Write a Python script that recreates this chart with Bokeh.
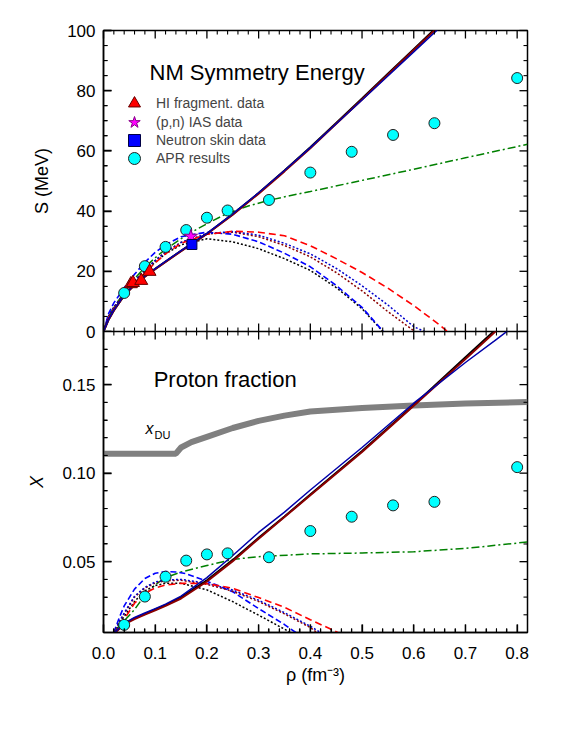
from bokeh.plotting import figure
from bokeh.layouts import column
from bokeh.models import (FixedTicker, LinearAxis, PrintfTickFormatter, Label,
                          Legend, LegendItem, Range1d)
from bokeh.embed import file_html
from bokeh.resources import INLINE

FONT = "Liberation Sans"
FRAME_W, FRAME_H = 424, 301

# ---------------- axis limits and ticks ----------------
X_MIN, X_MAX = 0.0, 0.82
S_MIN, S_MAX = 0.0, 100.0
P_MIN, P_MAX = 0.01, 0.18
x_major = [0.0, 0.1, 0.2, 0.3, 0.4, 0.5, 0.6, 0.7, 0.8]
x_minor = [0.02, 0.04, 0.06, 0.08, 0.12, 0.14, 0.16, 0.18, 0.22, 0.24, 0.26, 0.28,
           0.32, 0.34, 0.36, 0.38, 0.42, 0.44, 0.46, 0.48, 0.52, 0.54, 0.56, 0.58,
           0.62, 0.64, 0.66, 0.68, 0.72, 0.74, 0.76, 0.78]
s_major = [0, 20, 40, 60, 80, 100]
s_minor = [5, 10, 15, 25, 30, 35, 45, 50, 55, 65, 70, 75, 85, 90, 95]
p_major = [0.05, 0.10, 0.15]
p_minor = [0.02, 0.03, 0.04, 0.06, 0.07, 0.08, 0.09, 0.11, 0.12, 0.13, 0.14, 0.16, 0.17]

# ---------------- top panel: symmetry energy ----------------
x_stiff = [0, 0.01, 0.02, 0.04, 0.06, 0.08, 0.1, 0.12, 0.15, 0.2, 0.25, 0.3, 0.35, 0.4, 0.45, 0.5, 0.55, 0.6, 0.65]
S_black_solid = [0, 4, 7, 12, 15.5, 18.3, 20.8, 23.2, 26.8, 32.5, 39, 46, 53.5, 61.2, 69.3, 77.4, 85.6, 93.8, 102]
S_darkred_solid = [0, 4, 7, 12, 15.4, 18.2, 20.7, 23.1, 26.7, 32.4, 38.8, 45.8, 53.2, 60.9, 69, 77.1, 85.3, 93.5, 101.6]
S_blue_solid = [0, 4.1, 7.1, 12.1, 15.6, 18.4, 20.9, 23.3, 26.9, 32.6, 39.1, 46.1, 53.5, 61.1, 69, 76.9, 84.9, 92.9, 100.9]

x_black_dot = [0, 0.01, 0.02, 0.04, 0.06, 0.08, 0.1, 0.12, 0.15, 0.2, 0.25, 0.3, 0.35, 0.4, 0.45, 0.5, 0.54]
S_black_dot = [0, 5, 8, 12.5, 16.5, 20, 23, 25.8, 28.8, 30.8, 29.8, 27.5, 24.2, 20.3, 14.6, 7.6, 0]
x_blue_dash = [0, 0.01, 0.02, 0.04, 0.06, 0.08, 0.1, 0.12, 0.15, 0.2, 0.25, 0.3, 0.35, 0.4, 0.45, 0.5, 0.541]
S_blue_dash = [0, 6, 9.5, 14.5, 19, 23, 26.3, 28.8, 31.5, 33, 32.3, 29.8, 26, 21.5, 15.3, 8, 0]
x_darkred_dot = [0, 0.01, 0.02, 0.04, 0.06, 0.08, 0.1, 0.12, 0.15, 0.2, 0.25, 0.3, 0.35, 0.4, 0.45, 0.5, 0.55, 0.602]
S_darkred_dot = [0, 5, 8, 12.7, 16.8, 20.4, 23.6, 26.4, 29.6, 32.4, 33, 31.5, 28.6, 24.8, 19.6, 13.5, 6.6, 0]
x_blue_dot = [0, 0.01, 0.02, 0.04, 0.06, 0.08, 0.1, 0.12, 0.15, 0.2, 0.25, 0.3, 0.35, 0.4, 0.45, 0.5, 0.55, 0.6, 0.621]
S_blue_dot = [0, 5, 8, 12.7, 16.8, 20.4, 23.6, 26.4, 29.6, 32.5, 33.2, 32, 29.3, 25.8, 21, 15.2, 8.8, 1.6, 0]
x_red_dash = [0, 0.01, 0.02, 0.04, 0.06, 0.08, 0.1, 0.12, 0.15, 0.2, 0.25, 0.3, 0.35, 0.4, 0.45, 0.5, 0.55, 0.6, 0.65, 0.665]
S_red_dash = [0, 4.5, 7.5, 12, 16, 19.5, 22.8, 25.8, 29.3, 32.3, 33.3, 33, 31.8, 28.5, 24.2, 19.6, 14.4, 8.6, 2.2, 0]
x_green = [0, 0.01, 0.02, 0.04, 0.06, 0.08, 0.1, 0.12, 0.16, 0.2, 0.24, 0.28, 0.32, 0.36, 0.4, 0.5, 0.6, 0.7, 0.82]
S_green = [0, 5, 8, 13, 17.5, 21.3, 24.5, 27.3, 32, 35.8, 39.3, 41.7, 43.6, 45.1, 46.5, 50.2, 53.9, 57.7, 62.2]

x_apr = [0.04, 0.08, 0.12, 0.16, 0.20, 0.24, 0.32, 0.40, 0.48, 0.56, 0.64, 0.80]
S_apr = [12.8, 21.7, 28.1, 33.7, 37.8, 40.2, 43.7, 52.8, 59.7, 65.3, 69.2, 84.2]
x_hi = [0.053, 0.057, 0.073, 0.089]
S_hi = [15.8, 16.2, 16.9, 19.9]
x_ias = [0.169]
S_ias = [31.6]
x_skin = [0.171]
S_skin = [28.9]

# ---------------- bottom panel: proton fraction ----------------
x_stiff_b = [0.02, 0.04, 0.06, 0.08, 0.1, 0.12, 0.15, 0.2, 0.25, 0.3, 0.35, 0.4, 0.5, 0.6, 0.7, 0.76, 0.8]
X_blue_solid = [0.0095, 0.0152, 0.0185, 0.021, 0.0235, 0.026, 0.0305, 0.041, 0.0535, 0.0665, 0.078, 0.0905, 0.1145, 0.1395, 0.1625, 0.1755, 0.1845]
X_black_solid = [0.0095, 0.015, 0.018, 0.0205, 0.023, 0.0255, 0.0298, 0.0395, 0.051, 0.0635, 0.0755, 0.088, 0.1125, 0.1385, 0.1655, 0.1815, 0.192]
X_darkred_solid = [0.0092, 0.0146, 0.0176, 0.0201, 0.0225, 0.025, 0.0292, 0.0388, 0.0503, 0.063, 0.0752, 0.0875, 0.112, 0.138, 0.1645, 0.1805, 0.191]

xb_blue_dash = [0.02, 0.03, 0.04, 0.06, 0.08, 0.1, 0.12, 0.14, 0.16, 0.2, 0.25, 0.3, 0.35, 0.372]
X_blue_dash = [0.01, 0.018, 0.025, 0.0345, 0.0405, 0.0435, 0.0444, 0.0442, 0.0432, 0.039, 0.033, 0.0235, 0.0145, 0.01]
xb_black_dot = [0.02, 0.03, 0.04, 0.06, 0.08, 0.1, 0.12, 0.15, 0.2, 0.25, 0.3, 0.36]
X_black_dot = [0.01, 0.015, 0.019, 0.0275, 0.0335, 0.0365, 0.0378, 0.0378, 0.0341, 0.0274, 0.0198, 0.0103]
xb_blue_dot = [0.02, 0.03, 0.04, 0.06, 0.08, 0.1, 0.12, 0.15, 0.2, 0.25, 0.3, 0.35, 0.4, 0.42]
X_blue_dot = [0.01, 0.016, 0.021, 0.0305, 0.0355, 0.0385, 0.0397, 0.04, 0.0378, 0.034, 0.0282, 0.0212, 0.0135, 0.01]
xb_darkred_dot = [0.02, 0.03, 0.04, 0.06, 0.08, 0.1, 0.12, 0.15, 0.2, 0.25, 0.3, 0.35, 0.4, 0.415]
X_darkred_dot = [0.01, 0.0155, 0.0205, 0.03, 0.035, 0.038, 0.0392, 0.0395, 0.0372, 0.0333, 0.0275, 0.0205, 0.0128, 0.0095]
xb_red_dash = [0.02, 0.03, 0.04, 0.06, 0.08, 0.1, 0.12, 0.15, 0.2, 0.25, 0.3, 0.35, 0.4, 0.45, 0.455]
X_red_dash = [0.009, 0.0135, 0.0175, 0.0265, 0.0322, 0.0352, 0.0368, 0.0378, 0.0376, 0.035, 0.0297, 0.0242, 0.0172, 0.0105, 0.0098]
xb_green = [0.02, 0.03, 0.04, 0.06, 0.08, 0.1, 0.12, 0.15, 0.2, 0.25, 0.3, 0.4, 0.5, 0.6, 0.7, 0.8, 0.82]
X_green = [0.0105, 0.0135, 0.0165, 0.023, 0.031, 0.037, 0.041, 0.0442, 0.0478, 0.0513, 0.0528, 0.0544, 0.0549, 0.0556, 0.0575, 0.0605, 0.0612]

x_du = [0, 0.14, 0.15, 0.17, 0.2, 0.25, 0.3, 0.35, 0.4, 0.5, 0.6, 0.7, 0.82]
X_du = [0.111, 0.111, 0.1145, 0.1175, 0.1205, 0.1255, 0.1295, 0.1325, 0.1348, 0.1368, 0.1382, 0.1393, 0.1402]

X_apr = [0.0143, 0.0303, 0.0415, 0.0506, 0.0541, 0.0547, 0.0525, 0.0673, 0.0754, 0.0818, 0.0838, 0.1034]

# ---------------- helpers ----------------
def add_axis(p, loc, major, minor, fmt, label, label_style="normal"):
    ax = LinearAxis(ticker=FixedTicker(ticks=major, minor_ticks=minor),
                    formatter=PrintfTickFormatter(format=fmt))
    ax.major_tick_in = 8
    ax.major_tick_out = 0
    ax.minor_tick_in = 4
    ax.minor_tick_out = 0
    ax.major_tick_line_color = "black"
    ax.minor_tick_line_color = "black"
    ax.major_tick_line_width = 1.3
    ax.minor_tick_line_width = 1.1
    ax.axis_line_color = "black"
    ax.axis_line_width = 1.5
    ax.major_label_text_font = FONT
    ax.major_label_text_font_size = "17px"
    ax.major_label_text_color = "black"
    ax.major_label_standoff = 8 if loc == "left" else 14
    ax.axis_label = label
    ax.axis_label_text_font = FONT
    ax.axis_label_text_font_size = "18px"
    ax.axis_label_text_font_style = label_style
    ax.axis_label_text_color = "black"
    ax.axis_label_standoff = 12 if loc == "left" else 3
    p.add_layout(ax, loc)
    return ax


def add_ticks(p, ymin, ymax, ymaj, ymin_ticks):
    """Inward tick marks on all four sides of the frame (lengths in pixels)."""
    per_px_y = (ymax - ymin) / FRAME_H
    per_px_x = (X_MAX - X_MIN) / FRAME_W
    for xs, ln, lw in ((x_major, 8, 1.3), (x_minor, 4, 1.1)):
        n = len(xs)
        p.segment(x0=xs, y0=[ymin] * n, x1=xs, y1=[ymin + ln * per_px_y] * n,
                  line_color="black", line_width=lw, level="overlay")
        p.segment(x0=xs, y0=[ymax] * n, x1=xs, y1=[ymax - ln * per_px_y] * n,
                  line_color="black", line_width=lw, level="overlay")
    for ys, ln, lw in ((ymaj, 8, 1.3), (ymin_ticks, 4, 1.1)):
        n = len(ys)
        p.segment(x0=[X_MIN] * n, y0=ys, x1=[X_MIN + ln * per_px_x] * n, y1=ys,
                  line_color="black", line_width=lw, level="overlay")
        p.segment(x0=[X_MAX] * n, y0=ys, x1=[X_MAX - ln * per_px_x] * n, y1=ys,
                  line_color="black", line_width=lw, level="overlay")


def make_fig(ymin, ymax, top_border, bottom_border):
    p = figure(frame_width=FRAME_W, frame_height=FRAME_H, x_range=Range1d(X_MIN, X_MAX),
               y_range=Range1d(ymin, ymax),
               output_backend="svg", toolbar_location=None,
               min_border_left=103, min_border_right=25,
               min_border_top=top_border, min_border_bottom=bottom_border,
               x_axis_location=None, y_axis_location=None)
    p.grid.visible = False
    p.outline_line_color = "black"
    p.outline_line_width = 1.5
    return p


def legend_row(p, label, renderer, loc_y):
    lg = Legend(items=[LegendItem(label=label, renderers=[renderer])],
                location=(16, loc_y), glyph_width=30, glyph_height=30,
                padding=0, margin=0, label_standoff=7,
                label_text_font=FONT, label_text_font_size="14px",
                border_line_color=None, background_fill_alpha=0)
    p.add_layout(lg)


# ---------------- top figure ----------------
p1 = make_fig(S_MIN, S_MAX, 30, 10)
add_ticks(p1, S_MIN, S_MAX, s_major, s_minor)
add_axis(p1, "left", s_major, s_minor, "%d", "S (MeV)")

p1.line(x_green, S_green, line_color="#008000", line_width=1.5, line_dash="8 3 2 3")
p1.line(x_black_dot, S_black_dot, line_color="black", line_width=1.5, line_dash="2 2")
p1.line(x_blue_dash, S_blue_dash, line_color="#0000FF", line_width=1.6, line_dash="6 3")
p1.line(x_darkred_dot, S_darkred_dot, line_color="#8B0000", line_width=1.5, line_dash="2 2")
p1.line(x_blue_dot, S_blue_dot, line_color="#0000CC", line_width=1.5, line_dash="2 2")
p1.line(x_red_dash, S_red_dash, line_color="#FF0000", line_width=1.6, line_dash="7 4")
p1.line(x_stiff, S_black_solid, line_color="black", line_width=2)
p1.line(x_stiff, S_darkred_solid, line_color="#8B0000", line_width=2)
p1.line(x_stiff, S_blue_solid, line_color="#0000AA", line_width=1.5)

r_apr = p1.scatter(x_apr, S_apr, marker="circle", size=11, fill_color="#00FFFF", line_color="#222222", line_width=1)
r_hi = p1.scatter(x_hi, S_hi, marker="triangle", size=13, fill_color="#FF0000", line_color="#660000", line_width=1)
r_ias = p1.scatter(x_ias, S_ias, marker="star", size=14, fill_color="#FF00FF", line_color="#880088", line_width=1)
r_skin = p1.scatter(x_skin, S_skin, marker="square", size=10, fill_color="#0000FF", line_color="#000044", line_width=1)

legend_row(p1, "HI fragment. data", r_hi, 213)
legend_row(p1, "(p,n) IAS data", r_ias, 194.5)
legend_row(p1, "Neutron skin data", r_skin, 176.5)
legend_row(p1, "APR results", r_apr, 158.5)

p1.add_layout(Label(x=0.089, y=86.1, text="NM Symmetry Energy", text_font=FONT,
                    text_font_size="22px", text_baseline="alphabetic", text_color="black"))

# ---------------- bottom figure ----------------
p2 = make_fig(P_MIN, P_MAX, 0, 10)
p2.border_fill_alpha = 0
p2.styles = {"margin-top": "-10px"}
add_ticks(p2, P_MIN, P_MAX, p_major, p_minor)
add_axis(p2, "left", p_major, p_minor, "%.2f", "X", label_style="italic")
add_axis(p2, "below", x_major, x_minor, "%.1f", "\u03c1 (fm\u207b\u00b3)")

p2.line(x_du, X_du, line_color="#808080", line_width=6)
p2.line(xb_green, X_green, line_color="#008000", line_width=1.5, line_dash="8 3 2 3")
p2.line(xb_black_dot, X_black_dot, line_color="black", line_width=1.5, line_dash="2 2")
p2.line(xb_blue_dash, X_blue_dash, line_color="#0000FF", line_width=1.6, line_dash="6 3")
p2.line(xb_darkred_dot, X_darkred_dot, line_color="#8B0000", line_width=1.5, line_dash="2 2")
p2.line(xb_blue_dot, X_blue_dot, line_color="#0000CC", line_width=1.5, line_dash="2 2")
p2.line(xb_red_dash, X_red_dash, line_color="#FF0000", line_width=1.6, line_dash="7 4")
p2.line(x_stiff_b, X_black_solid, line_color="black", line_width=2)
p2.line(x_stiff_b, X_darkred_solid, line_color="#8B0000", line_width=2)
p2.line(x_stiff_b, X_blue_solid, line_color="#0000AA", line_width=1.5)
p2.scatter(x_apr, X_apr, marker="circle", size=11, fill_color="#00FFFF", line_color="#222222", line_width=1)

p2.add_layout(Label(x=0.097, y=0.1527, text="Proton fraction", text_font=FONT,
                    text_font_size="22px", text_baseline="alphabetic", text_color="black"))
p2.add_layout(Label(x=0.081, y=0.125, text="x", text_font=FONT, text_font_style="italic",
                    text_font_size="16px", text_baseline="alphabetic", text_color="black"))
p2.add_layout(Label(x=0.0985, y=0.1218, text="DU", text_font=FONT,
                    text_font_size="11px", text_baseline="alphabetic", text_color="black"))

layout = column(p1, p2, spacing=0)
open("out.html", "w").write(file_html(layout, INLINE))
